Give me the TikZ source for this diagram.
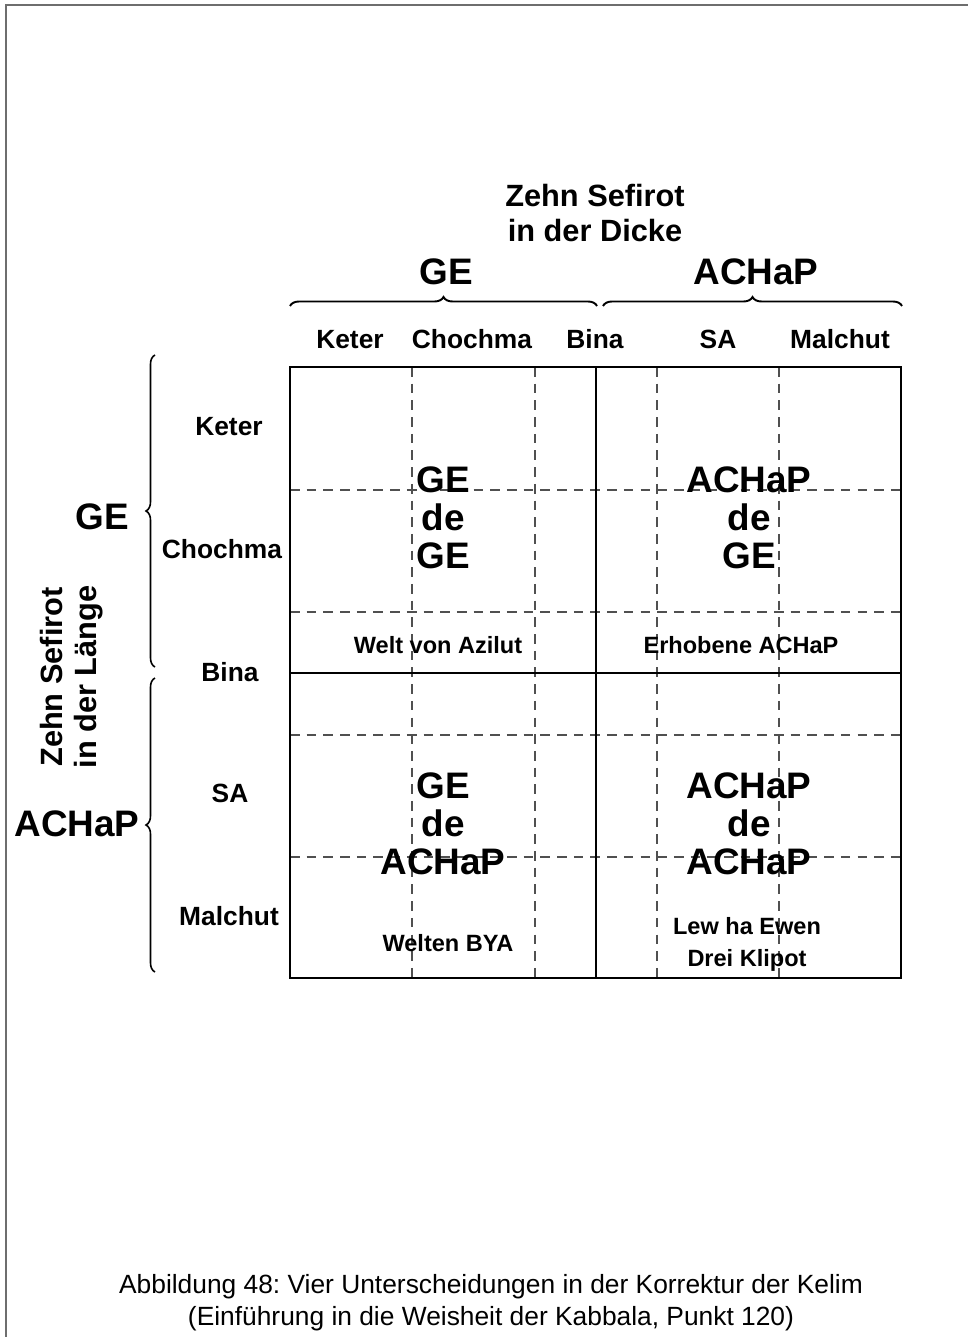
\documentclass[tikz,border=0pt]{standalone}
\usepackage{fontspec}
\setmainfont{Liberation Sans}
\usepackage{tikz}
\usetikzlibrary{decorations.pathreplacing}
\usepackage{xcolor}
\definecolor{framecol}{HTML}{6E6E6E}
\definecolor{dashcol}{HTML}{505050}
\newcommand{\bigfnt}{\fontsize{21}{21.6}\selectfont\bfseries}% cell and block labels
\frenchspacing

\begin{document}
\begin{tikzpicture}[x=0.02cm,y=-0.02cm,every node/.style={inner sep=0pt},
    bigtxt/.style={font=\bigfnt, align=center},
    headtxt/.style={font=\fontsize{17.5}{19.4}\selectfont\bfseries, align=center},
    lbl/.style={font=\fontsize{15}{18}\selectfont\bfseries, anchor=base},
    note/.style={font=\fontsize{13.4}{18.2}\selectfont\bfseries, align=center},
    dashln/.style={dashcol, line width=0.75pt, dash pattern=on 5.5pt off 4pt},
    solidln/.style={line width=1.3pt},
    brc/.style={decorate, decoration={brace, amplitude=0.18cm}, line width=0.9pt}]
      \useasboundingbox (0,0) rectangle (968,1337);
      \draw[framecol, line width=1.2pt] (6,1337) -- (6,5) -- (968,5);
      % top: thickness
      \node[headtxt] (T) at (595,213) {Zehn Sefirot\\in der Dicke};
      \node[bigtxt] (HG) at (446,272) {GE};
      \node[bigtxt] (HA) at (756,272) {ACHaP};
      \coordinate (BG1) at (290,306);
      \coordinate (BG2) at (597,306);
      \coordinate (BA1) at (603,306);
      \coordinate (BA2) at (902,306);
      \draw[brc, line width=1.1pt] (BG1) -- (BG2);
      \draw[brc, line width=1.1pt] (BA1) -- (BA2);
      \node[lbl] (CK) at (350,349) {Keter};
      \node[lbl] (CC) at (472,349) {Chochma};
      \node[lbl] (CB) at (595,349) {Bina};
      \node[lbl] (CS) at (718,349) {SA};
      \node[lbl] (CM) at (840,349) {Malchut};
      % left: length
      \node[headtxt, rotate=90] (L) at (72,677) {Zehn Sefirot\\in der Länge};
      \node[bigtxt] (LG) at (102,517) {GE};
      \node[bigtxt] (LA) at (77,824) {ACHaP};
      \coordinate (VG1) at (155,667);
      \coordinate (VG2) at (155,355);
      \coordinate (VA1) at (155,972);
      \coordinate (VA2) at (155,678);
      \draw[brc] (VG1) -- (VG2);
      \draw[brc] (VA1) -- (VA2);
      \node[lbl] (RK) at (229,436) {Keter};
      \node[lbl] (RC) at (222,558) {Chochma};
      \node[lbl] (RB) at (230,681) {Bina};
      \node[lbl] (RS) at (230,802) {SA};
      \node[lbl] (RM) at (229,925) {Malchut};
      % grid
      \draw[dashln] (412,367) -- (412,978);
      \draw[dashln] (535,367) -- (535,978);
      \draw[dashln] (657,367) -- (657,978);
      \draw[dashln] (779,367) -- (779,978);
      \draw[dashln] (290,490) -- (901,490);
      \draw[dashln] (290,612) -- (901,612);
      \draw[dashln] (290,735) -- (901,735);
      \draw[dashln] (290,857) -- (901,857);
      \draw[solidln] (290,367) rectangle (901,978);
      \draw[solidln] (596,367) -- (596,978);
      \draw[solidln] (290,673) -- (901,673);
      % cells
      \node[bigtxt] (GG) at (443,518) {GE\\de\\GE};
      \node[bigtxt] (AG) at (749,518) {ACHaP\\de\\GE};
      \node[bigtxt] (GA) at (443,824) {GE\\de\\ACHaP};
      \node[bigtxt] (AA) at (749,824) {ACHaP\\de\\ACHaP};
      \node[note] (WA) at (438,645) {Welt von Azilut};
      \node[note] (EA) at (741,645) {Erhobene ACHaP};
      \node[note] (WB) at (448,943) {Welten BYA};
      \node[note] (LK) at (747,944) {Lew ha Ewen\\Drei Klipot};
      \node[font=\fontsize{15}{18.2}\selectfont, align=center] (CAP) at (491,1303)
        {Abbildung 48: Vier Unterscheidungen in der Korrektur der Kelim\\(Einführung in die Weisheit der Kabbala, Punkt 120)};
    \end{tikzpicture}
\end{document}
